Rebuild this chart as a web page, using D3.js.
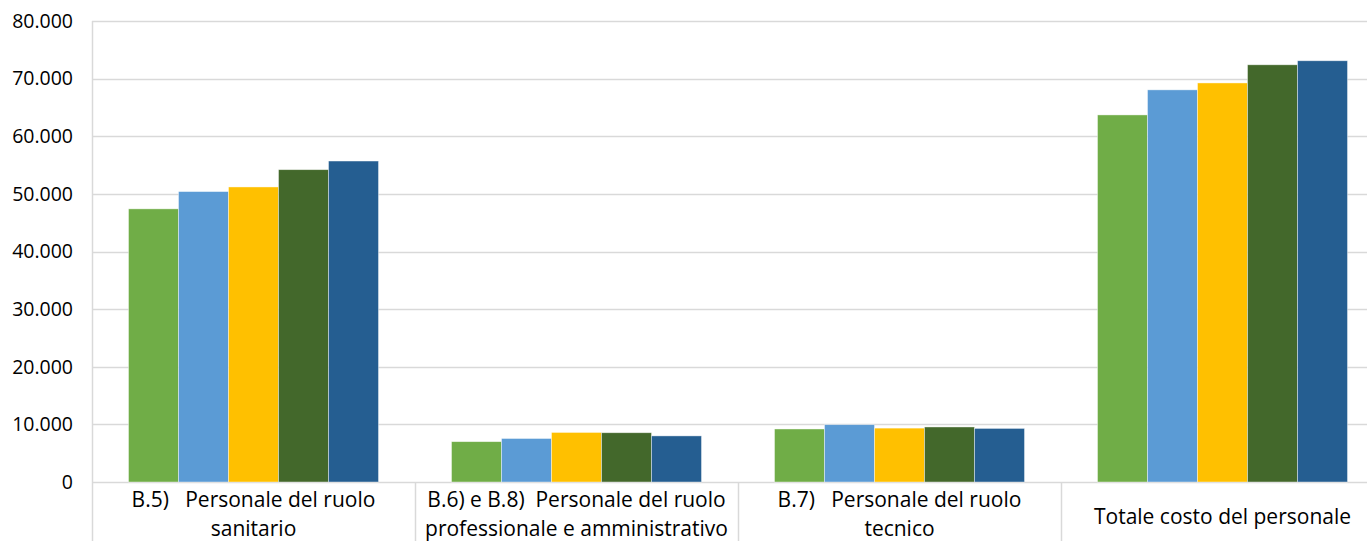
<!DOCTYPE html>
<html>
<head>
<meta charset="utf-8">
<script src="https://cdn.jsdelivr.net/npm/d3@7"></script>
<style>
  html, body { margin: 0; padding: 0; background: #fff; }
  svg { display: block; font-family: "Open Sans", "Noto Sans", sans-serif; }
  text { white-space: pre; }
</style>
</head>
<body>
<svg id="chart" width="1367" height="541"></svg>
<script>
// categories, with their two label lines
var categories = ["B5", "B6B8", "B7", "TOT"];
var categoryLabels = [
  ["B.5)   Personale del ruolo", "sanitario"],
  ["B.6) e B.8)  Personale del ruolo", "professionale e amministrativo"],
  ["B.7)   Personale del ruolo", "tecnico"],
  ["Totale costo del personale"]
];
var series = ["Serie 1", "Serie 2", "Serie 3", "Serie 4", "Serie 5"];
var seriesColors = ["#70AD47", "#5B9BD5", "#FFC000", "#43682B", "#255E91"];
// values per series, one per category
var values = [
  [47400, 7000, 9200, 63700],
  [50400, 7550, 9950, 68050],
  [51200, 8600, 9350, 69250],
  [54200, 8550, 9550, 72400],
  [55700, 8000, 9300, 73100]
];
var yTicks = [0, 10000, 20000, 30000, 40000, 50000, 60000, 70000, 80000];

(function () {
  var width = 1367, height = 541;
  var mLeft = 92, mRight = 1384, mTop = 21, mBottom = 482;

  var svg = d3.select("#chart");

  var y = d3.scaleLinear().domain([0, 80000]).range([mBottom, mTop]);
  var x0 = d3.scaleBand().domain(categories).range([mLeft, mRight]).paddingInner(0).paddingOuter(0);
  var x1 = d3.scaleBand().domain(series).range([0, x0.bandwidth()]).paddingOuter(0.73).paddingInner(0);

  var fmt = d3.formatLocale({ decimal: ",", thousands: ".", grouping: [3], currency: ["€", ""] }).format(",.0f");

  // gridlines
  svg.append("g").selectAll("line").data(yTicks).enter().append("line")
    .attr("x1", mLeft).attr("x2", width)
    .attr("y1", function (d) { return Math.round(y(d)) + 0.5; })
    .attr("y2", function (d) { return Math.round(y(d)) + 0.5; })
    .attr("stroke", "#D9D9D9").attr("stroke-width", 1.5);

  // y axis labels
  var yAxis = d3.axisLeft(y).tickValues(yTicks).tickFormat(fmt).tickSize(0).tickPadding(19);
  var gy = svg.append("g").attr("transform", "translate(" + mLeft + ",0)").call(yAxis);
  gy.select(".domain").remove();
  gy.selectAll("text").attr("font-size", 19.5).attr("fill", "#000")
    .attr("font-family", "'Open Sans', sans-serif");

  // bars
  var catGroups = svg.append("g").selectAll("g").data(categories).enter().append("g")
    .attr("transform", function (c) { return "translate(" + x0(c) + ",0)"; });
  catGroups.selectAll("rect")
    .data(function (c, ci) { return series.map(function (s, si) { return { s: s, si: si, v: values[si][ci] }; }); })
    .enter().append("rect")
    .attr("x", function (d) { return x1(d.s); })
    .attr("width", x1.bandwidth())
    .attr("y", function (d) { return y(d.v); })
    .attr("height", function (d) { return y(0) - y(d.v); })
    .attr("fill", function (d) { return seriesColors[d.si]; })
    .attr("stroke", "rgba(255,255,255,0.55)").attr("stroke-width", 0.75);

  // vertical axis line and category separators
  svg.append("line").attr("x1", mLeft + 0.5).attr("x2", mLeft + 0.5).attr("y1", mTop).attr("y2", height)
    .attr("stroke", "#D9D9D9").attr("stroke-width", 1.5);
  svg.append("g").selectAll("line").data(categories.slice(1)).enter().append("line")
    .attr("x1", function (c) { return Math.round(x0(c)) + 0.5; })
    .attr("x2", function (c) { return Math.round(x0(c)) + 0.5; })
    .attr("y1", mBottom).attr("y2", height)
    .attr("stroke", "#D9D9D9").attr("stroke-width", 1.5);

  // category labels
  var labels = svg.append("g").selectAll("text").data(categories).enter().append("text")
    .attr("text-anchor", "middle")
    .attr("font-size", 21).attr("fill", "#000")
    .attr("x", function (c) { return x0(c) + x0.bandwidth() / 2; })
    .attr("y", function (c, i) { return categoryLabels[i].length > 1 ? 507 : 524; });
  labels.each(function (c, i) {
    var t = d3.select(this);
    categoryLabels[i].forEach(function (line, li) {
      t.append("tspan").attr("x", x0(c) + x0.bandwidth() / 2).attr("dy", li === 0 ? 0 : 29).text(line);
    });
  });
})();
</script>
</body>
</html>
